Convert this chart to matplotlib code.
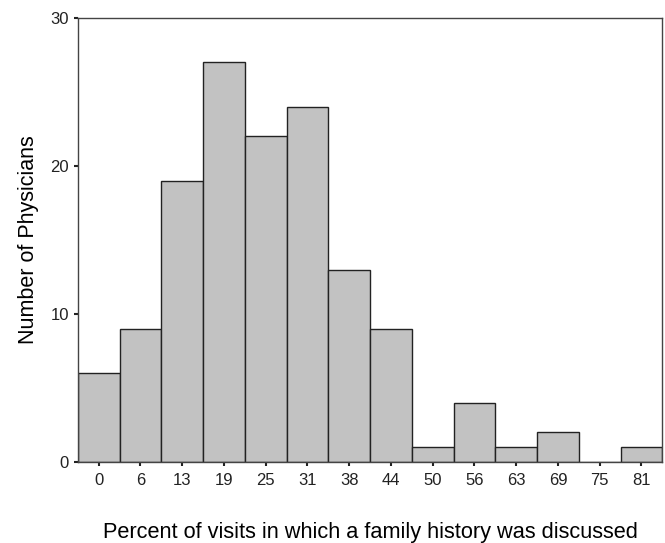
import numpy as np
import matplotlib
matplotlib.use('Agg')
import matplotlib.pyplot as plt

plt.rcParams['font.family'] = ['Liberation Sans', 'DejaVu Sans']

# Histogram data
bin_labels = ['0', '6', '13', '19', '25', '31', '38', '44', '50', '56', '63', '69', '75', '81']
counts = [6, 9, 19, 27, 22, 24, 13, 9, 1, 4, 1, 2, 0, 1]
y_ticks = [0, 10, 20, 30]

fig = plt.figure(figsize=(6.65, 5.43), dpi=100)
ax = fig.add_axes([0.117, 0.149, 0.879, 0.818])

x = np.arange(len(counts))
ax.bar(x, counts, width=1.0, color='#c2c2c2', edgecolor='#222222', linewidth=1.0)

ax.set_xlim(-0.5, len(counts) - 0.5)
ax.set_ylim(0, 30)
ax.set_xticks(x)
ax.set_xticklabels(bin_labels)
ax.set_yticks(y_ticks)
ax.tick_params(axis='both', direction='out', length=3, width=1.5, labelsize=12, colors='#222222')
ax.tick_params(axis='x', pad=5)

for sp in ax.spines.values():
    sp.set_color('#444444')
    sp.set_linewidth(1.0)

ax.set_ylabel('Number of Physicians', fontsize=15.5, labelpad=8)
ax.set_xlabel('Percent of visits in which a family history was discussed', fontsize=15.7, labelpad=24)

fig.savefig('out.png', dpi=100)
